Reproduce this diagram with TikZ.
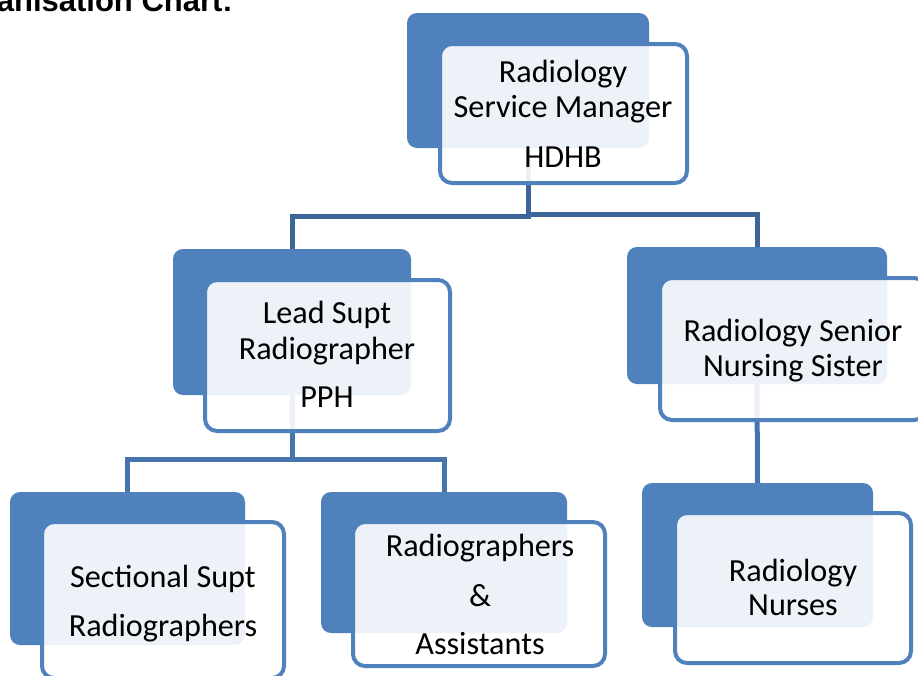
\documentclass[tikz,border=0pt]{standalone}
\usepackage{fontspec}
\usetikzlibrary{backgrounds}
\setmainfont{Carlito}
\newfontfamily\titlefont{Liberation Sans}
\definecolor{boxblue}{HTML}{4F81BD}
\definecolor{linkdark}{HTML}{3D6698}
\definecolor{linkmid}{HTML}{4674AE}
\begin{document}
\begin{tikzpicture}[x=1pt,y=-1pt,
  backbox/.style={fill=boxblue, draw=none, rounded corners=10pt, inner sep=0pt},
  frontbox/.style={draw=boxblue, line width=4pt, fill=white, fill opacity=0.9, rounded corners=12pt, inner sep=0pt},
  lbl/.style={anchor=base, inner sep=0pt, font=\fontsize{32.2}{36}\selectfont},
  link/.style={line width=5pt, draw=linkmid}]
\useasboundingbox (0,0) rectangle (918,675);

% title (cut by the top edge)
\node[anchor=base east, inner sep=0pt, font=\titlefont\bfseries\fontsize{31}{35}\selectfont] (title) at (233,11) {Organisation Chart:};

% back boxes
\node[backbox, minimum width=242pt, minimum height=135pt] (b1) at (528,80.5) {};
\node[backbox, minimum width=238pt, minimum height=146pt] (b2) at (292,322) {};
\node[backbox, minimum width=260pt, minimum height=137pt] (b3) at (757,315.5) {};
\node[backbox, minimum width=235pt, minimum height=153pt] (b4) at (127.5,568.5) {};
\node[backbox, minimum width=246pt, minimum height=141pt] (b5) at (444,562.5) {};
\node[backbox, minimum width=231pt, minimum height=144pt] (b6) at (757.5,555) {};

% front boxes
\node[frontbox, minimum width=247pt, minimum height=139pt] (f1) at (563.5,113.5) {};
\node[frontbox, minimum width=245pt, minimum height=151pt] (f2) at (327.5,355.5) {};
\node[frontbox, minimum width=266pt, minimum height=142pt] (f3) at (793,349) {};
\node[frontbox, minimum width=242pt, minimum height=156pt] (f4) at (163,600) {};
\node[frontbox, minimum width=252pt, minimum height=144pt] (f5) at (479,594) {};
\node[frontbox, minimum width=236pt, minimum height=150pt] (f6) at (793,588) {};

% connectors (behind the boxes)
\begin{scope}[on background layer]
\draw[link, draw=linkdark] (b1.south) -- ++(0,68) -| (b2.north);
\draw[link, draw=linkdark] (b1.south) -- ++(0,66) -| (b3.north);
\draw[link] (b2.south) -- ++(0,64) -| (b4.north);
\draw[link] (b2.south) -- ++(0,64) -| (b5.north);
\draw[link] (b3.south) -- (b6.north);
\end{scope}

% texts
\node[lbl] (t1a) at (563,82) {Radiology};
\node[lbl] (t1b) at (563,117) {Service Manager};
\node[lbl] (t1c) at (563,167) {HDHB};
\node[lbl] (t2a) at (327,323) {Lead Supt};
\node[lbl] (t2b) at (327,359) {Radiographer};
\node[lbl] (t2c) at (327,407) {PPH};
\node[lbl] (t3a) at (793,341) {Radiology Senior};
\node[lbl] (t3b) at (793,376) {Nursing Sister};
\node[lbl] (t4a) at (163,587) {Sectional Supt};
\node[lbl] (t4b) at (163,636) {Radiographers};
\node[lbl] (t5a) at (480,556) {Radiographers};
\node[lbl] (t5b) at (480,606) {\&};
\node[lbl] (t5c) at (480,654) {Assistants};
\node[lbl] (t6a) at (793,581) {Radiology};
\node[lbl] (t6b) at (793,615) {Nurses};
\end{tikzpicture}
\end{document}
